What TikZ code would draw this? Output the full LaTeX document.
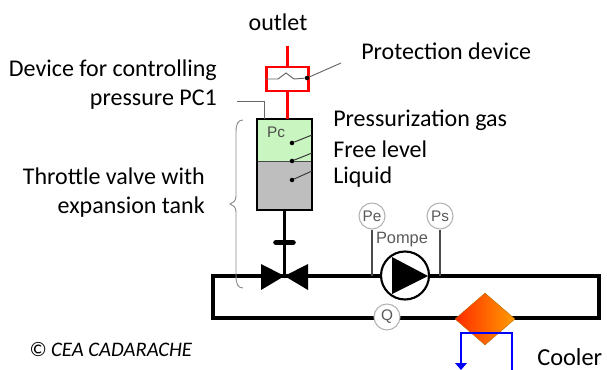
\documentclass[tikz,border=0pt]{standalone}
\usepackage{fontspec}
\setmainfont{Carlito}
\newfontfamily\schemafont{Liberation Sans}
\usepackage{tikz}
\usetikzlibrary{shapes.geometric}

\definecolor{coolred}{HTML}{FF2A00}
\definecolor{coolorange}{HTML}{FF9C00}
\definecolor{gasgreen}{HTML}{C8F5C0}
\definecolor{liqgrey}{HTML}{BEBEBE}

\tikzset{
	pipe/.style={line width=2.3pt, black},
	gauge/.style={circle, draw=black!30, line width=0.8pt, fill=white, inner sep=0pt, minimum size=19.5pt, text=black!65, font=\fontsize{11.5}{12}\schemafont},
	thinline/.style={line width=0.7pt, black!60},
	label/.style={font=\fontsize{18}{21.75}\selectfont, align=right, inner sep=0pt},
	tip/.style={circle, fill=black, inner sep=0pt, minimum size=3.4pt}
}

\begin{document}
\begin{tikzpicture}[x=0.75pt, y=-0.75pt]
\useasboundingbox (0,0) rectangle (607,370);

% tank
\fill[gasgreen] (257,119) rectangle (312,161);
\fill[liqgrey] (257,161) rectangle (312,210);
\draw[thinline, black!70] (257,161) -- (312,161);
\draw[line width=1.7pt] (257,119) rectangle (312,210);
\node[text=black!70, font=\fontsize{11.5}{12}\schemafont] (pc) at (276,132) {Pc};

% protection device
\coordinate (out) at (287.5,46);
\coordinate (tanktop) at (287.5,119);
\draw[red, line width=2.8pt] (out) -- (tanktop);
\node[draw=red, line width=2.2pt, fill=white, minimum width=32pt, minimum height=18pt, inner sep=0pt] (prot) at (287.5,79) {};
\coordinate (protL) at (265,79);
\node[tip] (protdot) at (307,78) {};
\draw[thinline] (protL) -- (278,79) -- (286,73) -- (294,79) -- (protdot);
\coordinate (protend) at (341,63);
\draw[thinline] (protdot) -- (protend);

% control line
\coordinate (ctrlA) at (237,101);
\coordinate (ctrlB) at (264,119);
\draw[thinline] (ctrlA) -| (ctrlB);

% leaders of the tank
\node[tip] (gas) at (292,143) {};
\node[tip] (free) at (292,161) {};
\node[tip] (liq) at (292,180) {};
\coordinate (gasend) at (312,135);
\coordinate (freeend) at (312,153);
\coordinate (liqend) at (312,171);
\draw[thinline, black!80] (gas) -- (gasend);
\draw[thinline, black!80] (free) -- (freeend);
\draw[thinline, black!80] (liq) -- (liqend);

% loop
\draw[pipe, line join=miter] (213,276) rectangle (599,318);

% valve
\coordinate (stemtop) at (284.5,210);
\coordinate (valve) at (284.5,276);
\draw[line width=2.8pt] (stemtop) -- (valve);
\draw[line width=4.2pt, line cap=round] (276,242.5) -- (293,242.5);
\fill (valve) -- (261,264) -- (261,290) -- cycle;
\fill (valve) -- (308,264) -- (308,290) -- cycle;

% pump
\node[gauge] (pe) at (372,216) {Pe};
\node[gauge] (ps) at (440,216) {Ps};
\coordinate (peb) at (372,276);
\coordinate (psb) at (440,276);
\draw[thinline, black!70, line width=1pt] (pe) -- (peb);
\draw[thinline, black!70, line width=1pt] (ps) -- (psb);
\node[text=black!65, font=\fontsize{12.3}{13}\schemafont] (pompe) at (402,240) {Pompe};
\node[circle, draw, fill=white, line width=1.6pt, minimum size=36pt, inner sep=0pt] (pump) at (405,275.5) {};
\fill (392,257) -- (392,294) -- (428,276) -- cycle;

% flow meter
\node[gauge] (q) at (387,317) {Q};

% cooler
\node[diamond, minimum width=45pt, minimum height=39pt, inner sep=0pt, left color=coolred, right color=coolorange, draw=coolorange!70!black, line width=0.3pt] (cooler) at (485,319) {};
\coordinate (coolA) at (461,333);
\coordinate (coolB) at (512,333);
\coordinate (coolC) at (461,364);
\coordinate (coolD) at (512,370);
\draw[blue, line width=1.9pt] (coolC) -- (coolA) -- (coolB) -- (coolD);
\fill[blue] (455,363) -- (467,363) -- (461,370) -- cycle;

% brace
\draw[black!45, line width=0.7pt] (243,120) .. controls (238,120) and (236,124) .. (236,132) -- (236,196) .. controls (236,201) and (233,203) .. (230,204) .. controls (233,205) and (236,207) .. (236,212) -- (236,276) .. controls (236,284) and (238,288) .. (243,288);

% texts
\node[label] (outlet) at (278,22) {outlet};
\node[label, anchor=west] (protlabel) at (361,51) {Protection device};
\node[label, anchor=east] (devlabel) at (217,85) {Device for controlling\\pressure PC1};
\node[label, anchor=west, align=left] (gaslabel) at (333,120) {Pressurization gas};
\node[label, anchor=west, align=left] (freelabel) at (333,149) {Free level};
\node[label, anchor=west, align=left] (liqlabel) at (333,177) {Liquid};
\node[label, anchor=east] (thrlabel) at (205,193) {Throttle valve with\\expansion tank};
\node[label, anchor=west, font=\fontsize{15.5}{18}\itshape] (cea) at (29,350) {© CEA CADARACHE};
\node[label, anchor=west, font=\fontsize{18.3}{22}\selectfont] (coolerlabel) at (537,357) {Cooler};
\end{tikzpicture}
\end{document}
